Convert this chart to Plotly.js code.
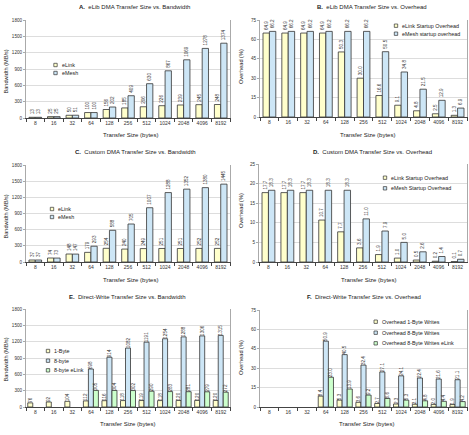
<!DOCTYPE html>
<html><head><meta charset="utf-8">
<script src="https://cdn.plot.ly/plotly-3.0.1.min.js"></script>
<style>html,body{margin:0;padding:0;background:#fff}</style>
</head><body><div id="chart" style="width:469px;height:435px"></div>
<script>
// Transfer sizes (bytes), shared by every panel
const sizes = ['8','16','32','64','128','256','512','1024','2048','4096','8192'];

// A. eLib DMA bandwidth (MB/s)
const elibBwELink = [13,25,50,100,156,185,206,226,239,245,248];
const elibBwEMesh = [13,25,51,100,202,409,630,867,1069,1278,1374];
// B. eLib DMA overhead (%)
const elibOhELink = [64.9,64.9,64.9,64.9,50.3,30.0,16.6,9.1,4.8,2.5,1.3];
const elibOhEMesh = [66.2,66.2,66.2,66.2,66.2,66.2,50.5,34.8,21.5,12.9,6.9];
// C. Custom DMA bandwidth (MB/s)
const customBwELink = [37,74,148,179,254,240,249,251,251,252,252];
const customBwEMesh = [37,73,147,293,588,705,1007,1288,1352,1380,1445];
// D. Custom DMA overhead (%)
const customOhELink = [17.7,17.7,17.7,10.7,7.7,3.6,1.9,1.0,0.5,0.2,0.1];
const customOhEMesh = [18.3,18.3,18.3,18.3,18.3,11.0,7.9,5.0,2.6,1.4,0.7];
// E. Direct-write bandwidth (MB/s)
const directBw1Byte = [76,92,104,112,116,118,119,118,120,120,120];
const directBw8Byte = [null,null,null,698,914,1082,1191,1254,1288,1306,1315];
const directBw8ByteELink = [null,null,null,305,304,302,290,283,281,279,272];
// F. Direct-write overhead (%)
const directOh1Byte = [null,null,null,8.4,5.3,3.6,2.7,2.3,2.1,2.0,1.9];
const directOh8Byte = [null,null,null,50.9,40.5,32.4,27.1,24.1,22.4,21.6,21.1];
const directOh8ByteELink = [null,null,null,23.0,13.9,9.2,6.6,5.3,4.8,4.4,4.2];

const W = 469, H = 435;
const FONT = 'Liberation Sans, Arial, sans-serif';
const YELLOW = '#ffffcc', BLUE = '#cde6f6', GREEN = '#ccffcc', EDGE = '#333333';
const px = x => x / W;
const py = y => 1 - y / H;

// panel boxes in pixels: left, right, top, bottom
const panels = [
  {l:26, r:230, t:20, b:118},
  {l:260, r:467, t:20, b:117},
  {l:26, r:230, t:165, b:262},
  {l:259, r:467, t:164, b:262},
  {l:26, r:230, t:309, b:407},
  {l:260, r:467, t:310, b:407}
];

const layout = {
  width: W, height: H,
  margin: {l:0, r:0, t:0, b:0},
  paper_bgcolor: '#fff', plot_bgcolor: '#fff',
  showlegend: false,
  font: {family: FONT, color: '#222'},
  annotations: [], shapes: []
};

const yRanges = [[0,1800,300],[0,75,15],[0,1800,300],[0,25,5],[0,1800,300],[0,75,15]];

panels.forEach((p, i) => {
  const n = i === 0 ? '' : String(i + 1);
  layout['xaxis' + n] = {
    domain: [px(p.l), px(p.r)], anchor: 'y' + n,
    type: 'category', categoryorder: 'array', categoryarray: sizes,
    tickson: 'boundaries', ticks: 'outside', ticklen: 3, tickcolor: '#444',
    tickangle: 0, automargin: false,
    showline: true, linecolor: '#444', linewidth: 1,
    showgrid: false, tickfont: {size: 5, family: FONT, color: '#333'},
    fixedrange: true
  };
  const r = yRanges[i];
  layout['yaxis' + n] = {
    domain: [py(p.b), py(p.t)], anchor: 'x' + n,
    range: [r[0], r[1]], dtick: r[2], tick0: 0,
    showgrid: true, gridcolor: '#d4d4d4', gridwidth: 0.8,
    showline: true, linecolor: '#aaa', linewidth: 1, mirror: true,
    ticks: 'outside', ticklen: 2, tickcolor: '#aaa',
    tickfont: {size: 4.6, family: FONT, color: '#333'},
    zeroline: false, fixedrange: true, automargin: false
  };
});

function barTrace(panel, y, color, width, offset, fmt) {
  const n = panel === 0 ? '' : String(panel + 1);
  return {
    type: 'bar', x: sizes, y: y,
    xaxis: 'x' + n, yaxis: 'y' + n,
    width: width, offset: offset,
    marker: {color: color, line: {color: EDGE, width: 0.8}},
    texttemplate: fmt, textposition: 'outside', textangle: -90,
    textfont: {size: 4.6, family: FONT, color: '#333'},
    constraintext: 'none', cliponaxis: false, hoverinfo: 'skip'
  };
}

const w2 = 0.34, w3 = 0.27;
const traces = [
  barTrace(0, elibBwELink, YELLOW, w2, -w2, '%{y}'),
  barTrace(0, elibBwEMesh, BLUE, w2, 0, '%{y}'),
  barTrace(1, elibOhELink, YELLOW, w2, -w2, '%{y:.1f}'),
  barTrace(1, elibOhEMesh, BLUE, w2, 0, '%{y:.1f}'),
  barTrace(2, customBwELink, YELLOW, w2, -w2, '%{y}'),
  barTrace(2, customBwEMesh, BLUE, w2, 0, '%{y}'),
  barTrace(3, customOhELink, YELLOW, w2, -w2, '%{y:.1f}'),
  barTrace(3, customOhEMesh, BLUE, w2, 0, '%{y:.1f}'),
  barTrace(4, directBw1Byte, YELLOW, w3, -1.5 * w3, '%{y}'),
  barTrace(4, directBw8Byte, BLUE, w3, -0.5 * w3, '%{y}'),
  barTrace(4, directBw8ByteELink, GREEN, w3, 0.5 * w3, '%{y}'),
  barTrace(5, directOh1Byte, YELLOW, w3, -1.5 * w3, '%{y:.1f}'),
  barTrace(5, directOh8Byte, BLUE, w3, -0.5 * w3, '%{y:.1f}'),
  barTrace(5, directOh8ByteELink, GREEN, w3, 0.5 * w3, '%{y:.1f}')
];

// panel titles
const titles = [
  ['A.', 'eLib DMA Transfer Size vs. Bandwidth', 134, 7],
  ['B.', 'eLib DMA Transfer Size vs. Overhead', 372, 7],
  ['C.', 'Custom DMA Transfer Size vs. Bandwidth', 135, 152],
  ['D.', 'Custom DMA Transfer Size vs. Overhead', 372, 152],
  ['E.', 'Direct-Write Transfer Size vs. Bandwidth', 127, 297],
  ['F.', 'Direct-Write Transfer Size vs. Overhead', 364, 297]
];
titles.forEach(t => layout.annotations.push({
  xref: 'paper', yref: 'paper', x: px(t[2]), y: py(t[3]),
  xanchor: 'center', yanchor: 'middle', showarrow: false,
  text: '<b>' + t[0] + '</b>  ' + t[1],
  font: {size: 6, family: FONT, color: '#222'}
}));

// axis titles
const xTitles = [[130,135],[367,135],[130,280],[368,280],[127,424],[366,424]];
xTitles.forEach(t => layout.annotations.push({
  xref: 'paper', yref: 'paper', x: px(t[0]), y: py(t[1]),
  xanchor: 'center', yanchor: 'middle', showarrow: false,
  text: 'Transfer Size (bytes)', font: {size: 6, family: FONT, color: '#222'}
}));
const yTitles = [
  ['Bandwidth (MB/s)', 5.5, 72], ['Overhead (%)', 241, 66],
  ['Bandwidth (MB/s)', 5.5, 217], ['Overhead (%)', 241, 210],
  ['Bandwidth (MB/s)', 5.5, 360], ['Overhead (%)', 241, 357]
];
yTitles.forEach(t => layout.annotations.push({
  xref: 'paper', yref: 'paper', x: px(t[1]), y: py(t[2]),
  xanchor: 'center', yanchor: 'middle', showarrow: false, textangle: -90,
  text: t[0], font: {size: 5.6, family: FONT, color: '#222'}
}));

// legends: [marker x, marker y, color, label]
const legendItems = [
  [55.5, 65, YELLOW, 'eLink'], [55.5, 73, BLUE, 'eMesh'],
  [396, 25.7, YELLOW, 'eLink Startup Overhead'], [396, 33.7, BLUE, 'eMesh startup overhead'],
  [52, 209, YELLOW, 'eLink'], [52, 217, BLUE, 'eMesh'],
  [385, 177.7, YELLOW, 'eLink Startup Overhead'], [385, 188.3, BLUE, 'eMesh Startup Overhead'],
  [48, 351, YELLOW, '1-Byte'], [48, 360.7, BLUE, '8-byte'], [48, 370.3, GREEN, '8-byte eLink'],
  [375.7, 321.7, YELLOW, 'Overhead 1-Byte Writes'], [375.7, 332.7, BLUE, 'Overhead 8-Byte Writes'],
  [375.7, 343.3, GREEN, 'Overhead 8-Byte Writes eLink']
];
legendItems.forEach(it => {
  const s = 1.7;
  layout.shapes.push({
    type: 'rect', xref: 'paper', yref: 'paper',
    x0: px(it[0] - s), x1: px(it[0] + s), y0: py(it[1] + s), y1: py(it[1] - s),
    fillcolor: it[2], line: {color: EDGE, width: 0.7}
  });
  layout.annotations.push({
    xref: 'paper', yref: 'paper', x: px(it[0] + 4), y: py(it[1]),
    xanchor: 'left', yanchor: 'middle', showarrow: false,
    text: it[3], font: {size: 5.4, family: FONT, color: '#222'}
  });
});

Plotly.newPlot('chart', traces, layout, {staticPlot: true, displayModeBar: false});
</script>
</body></html>
